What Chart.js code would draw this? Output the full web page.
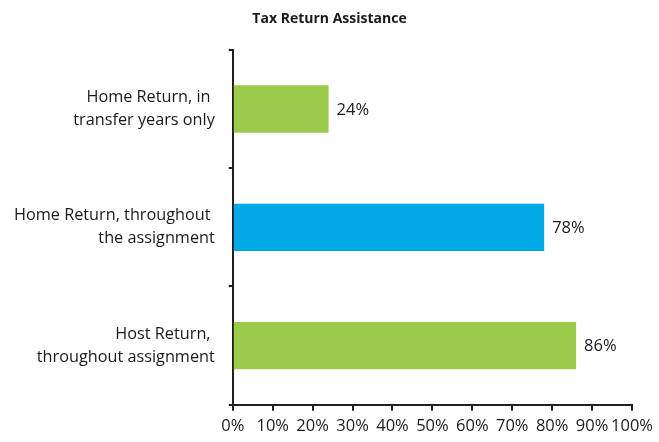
<!DOCTYPE html>
<html>
<head>
<meta charset="utf-8">
<script src="https://cdn.jsdelivr.net/npm/chart.js@4"></script>
<style>
    html, body { margin: 0; padding: 0; background: #fff; }
    #wrap { width: 659px; height: 442px; position: relative; }
</style>
</head>
<body>
<div id="wrap"><canvas id="taxChart"></canvas></div>
<script>
    // values
    const categories = [
        ['Home Return, in ', 'transfer years only'],
        ['Home Return, throughout ', 'the assignment'],
        ['Host Return, ', 'throughout assignment']
    ];
    const shares = [24, 78, 86];
    const barColors = ['#9bcb4a', '#00a9e6', '#9bcb4a'];
    const xTicks = [0, 10, 20, 30, 40, 50, 60, 70, 80, 90, 100];

    const axisColor = '#231f20';
    const fontFamily = '"Open Sans", "Noto Sans", sans-serif';

    // writes the value to the right of every bar
    const valueLabels = {
        id: 'valueLabels',
        afterDatasetsDraw(chart) {
            const ctx = chart.ctx;
            const meta = chart.getDatasetMeta(0);
            ctx.save();
            ctx.font = '16.5px ' + fontFamily;
            ctx.fillStyle = '#1a1a1a';
            ctx.textAlign = 'left';
            ctx.textBaseline = 'middle';
            meta.data.forEach((bar, i) => {
                ctx.fillText(shares[i] + '%', bar.x + 8, bar.y + 1);
            });
            ctx.restore();
        }
    };

    const chart = document.getElementById('taxChart').getContext('2d');

    new Chart(chart, {
        type: 'bar',
        data: {
            labels: categories,
            datasets: [{
                data: shares,
                backgroundColor: barColors,
                barPercentage: 0.4,
                categoryPercentage: 1.0
            }]
        },
        options: {
            indexAxis: 'y',
            responsive: true,
            maintainAspectRatio: false,
            animation: false,
            layout: { padding: { left: 0, right: 0, top: 0, bottom: 0 } },
            plugins: {
                legend: { display: false },
                tooltip: { enabled: false },
                title: {
                    display: true,
                    text: 'Tax Return Assistance',
                    color: '#1a1a1a',
                    font: { family: fontFamily, size: 14, weight: 'bold' },
                    padding: { top: 11, bottom: 22 }
                }
            },
            scales: {
                x: {
                    min: 0,
                    max: 100,
                    afterBuildTicks: (axis) => { axis.ticks = xTicks.map(v => ({ value: v })); },
                    // let the 100% label run off the right edge like the original
                    afterFit: (axis) => { axis.paddingRight = 27; },
                    grid: { drawOnChartArea: false, color: axisColor, lineWidth: 2, tickLength: 6 },
                    border: { color: axisColor, width: 2 },
                    ticks: {
                        color: '#1a1a1a',
                        font: { family: fontFamily, size: 16.5, lineHeight: 0.8 },
                        padding: 9,
                        maxRotation: 0,
                        autoSkip: false,
                        callback: (v) => v + '%'
                    }
                },
                y: {
                    grid: { drawOnChartArea: false, offset: true, color: axisColor, lineWidth: 2, tickLength: 4 },
                    border: { color: axisColor, width: 2 },
                    ticks: {
                        color: '#1a1a1a',
                        font: { family: fontFamily, size: 16.25, lineHeight: 1.42 },
                        padding: 14
                    }
                }
            }
        },
        plugins: [valueLabels]
    });
</script>
</body>
</html>
